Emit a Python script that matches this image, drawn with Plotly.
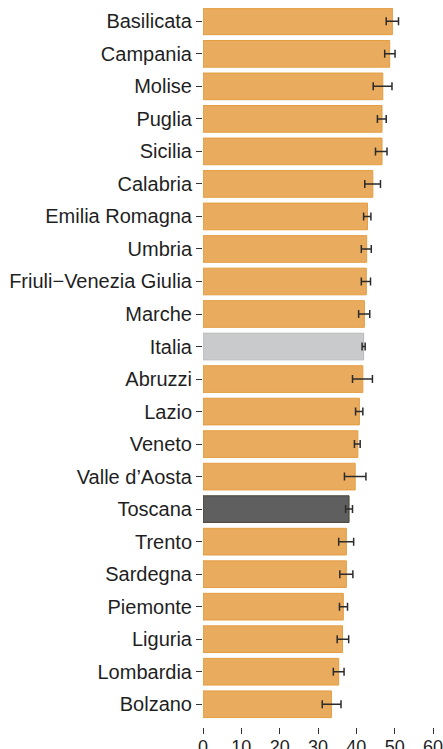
import plotly.graph_objects as go

regions = ["Basilicata", "Campania", "Molise", "Puglia", "Sicilia", "Calabria",
           "Emilia Romagna", "Umbria", "Friuli\u2212Venezia Giulia", "Marche", "Italia",
           "Abruzzi", "Lazio", "Veneto", "Valle d\u2019Aosta", "Toscana", "Trento",
           "Sardegna", "Piemonte", "Liguria", "Lombardia", "Bolzano"]
values = [49.4, 48.7, 46.9, 46.7, 46.7, 44.3, 42.9, 42.7, 42.6, 42.1, 41.9,
          41.7, 40.8, 40.4, 39.7, 38.1, 37.4, 37.4, 36.6, 36.4, 35.4, 33.5]
lower = [47.8, 47.4, 44.4, 45.5, 45.0, 42.2, 41.9, 41.3, 41.3, 40.6, 41.5,
         39.0, 39.8, 39.5, 36.9, 37.2, 35.4, 35.7, 35.6, 35.0, 34.0, 31.1]
upper = [51.0, 50.1, 49.3, 47.8, 48.0, 46.3, 43.8, 43.9, 43.7, 43.5, 42.3,
         44.2, 41.7, 41.0, 42.5, 39.0, 39.3, 39.1, 37.7, 38.0, 36.8, 36.0]
x_ticks = [0, 10, 20, 30, 40, 50, 60]

fill = {"Italia": "#C9CACC", "Toscana": "#5F5F5F"}
edge = {"Italia": "#B9B9B9", "Toscana": "#4B4436"}
colors = [fill.get(r, "#E9AB5E") for r in regions]
edges = [edge.get(r, "#E39D42") for r in regions]

err_plus = [u - v for u, v in zip(upper, values)]
err_minus = [v - l for v, l in zip(values, lower)]

fig = go.Figure(go.Bar(
    y=regions, x=values, orientation="h", width=0.82,
    marker=dict(color=colors, line=dict(color=edges, width=1)),
    error_x=dict(type="data", symmetric=False, array=err_plus, arrayminus=err_minus,
                 color="#2b2b2b", thickness=1.5, width=4),
))

fig.update_layout(
    width=443, height=749,
    margin=dict(l=203, r=10, t=8, b=22),
    plot_bgcolor="white", paper_bgcolor="white",
    font=dict(family="Liberation Sans, Arial, sans-serif", color="#1f1f1f"),
    showlegend=False,
    bargap=0.18,
)
fig.update_xaxes(
    range=[0, 60], tickvals=x_ticks, ticks="outside", ticklen=6, tickwidth=1,
    tickcolor="#333333", showgrid=False, zeroline=False, showline=False,
    tickfont=dict(size=18), automargin=False, ticklabeloverflow="allow",
    ticklabelstandoff=-3,
)
fig.update_yaxes(
    categoryorder="array", categoryarray=regions[::-1], range=[-0.70, 21.41],
    ticks="outside", ticklen=6, tickwidth=1, tickcolor="#333333",
    showgrid=False, zeroline=False, showline=False,
    tickfont=dict(size=20), automargin=False,
)

fig.write_html(
    "out.html",
    config={"displayModeBar": False},
    post_script="document.body.style.margin='0';"
                "document.documentElement.style.overflow='hidden';",
)
